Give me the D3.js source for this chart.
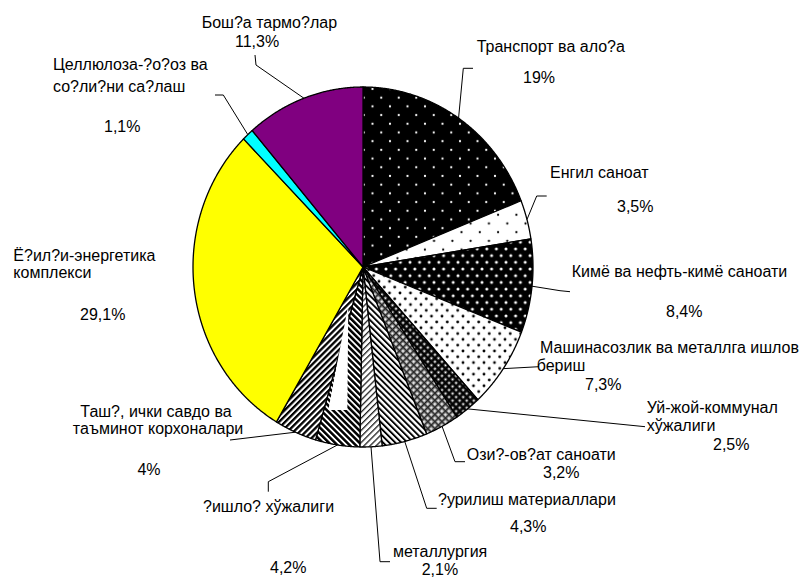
<!DOCTYPE html>
<html><head><meta charset="utf-8">
<script src="https://cdn.jsdelivr.net/npm/d3@7"></script>
<style>
body{margin:0;background:#fff}
svg{display:block}
text{font-family:"Liberation Sans",Arial,sans-serif;font-size:16px;fill:#000}
</style></head>
<body><svg id="c" width="803" height="577"></svg>
<script>
// ---- data ----
const categoryLines = [
  ["Транспорт ва ало?а"],
  ["Енгил саноат"],
  ["Кимё ва нефть-кимё саноати"],
  ["Машинасозлик ва металлга ишлов", "бериш"],
  ["Уй-жой-коммунал", "хўжалиги"],
  ["Ози?-ов?ат саноати"],
  ["?урилиш материаллари"],
  ["металлургия"],
  ["?ишло? хўжалиги"],
  ["Таш?, ички савдо ва", "таъминот корхоналари"],
  ["Ё?ил?и-энергетика", "комплекси"],
  ["Целлюлоза-?о?оз ва", "со?ли?ни са?лаш"],
  ["Бош?а тармо?лар"]
];
const shares = [19, 3.5, 8.4, 7.3, 2.5, 3.2, 4.3, 2.1, 4.2, 4, 29.1, 1.1, 11.3];
const fillKeys = ["transport","engil","kime","mashina","uy","ozik","qur","met","qish","tash","#FFFF00","#00FFFF","#800080"];

// ---- layout (label positions: x, baseline y, anchor) ----
const labelPos = [
  {lines:[[476.7,52.3]], pct:[523,83.3], lead:[[473,68.3],[463.3,68.3]]},
  {lines:[[550,178.3]], pct:[617,211.7], lead:[[546.7,196],[536.7,196]]},
  {lines:[[571.7,277.3]], pct:[666,316.7], lead:[[570,291.7],[560,290.7]]},
  {lines:[[540,353.3],[536.7,370.5]], pct:[585,390], lead:[[539,366.7]]},
  {lines:[[646.7,413.3],[646.7,431]], pct:[713,450], lead:[[645,426.7]]},
  {lines:[[466.7,460]], pct:[543,478.3], lead:[[465,461.7],[455,461.7]]},
  {lines:[[438,505]], pct:[510,531.7], lead:[[436.7,508.3],[426.7,508.3]]},
  {lines:[[393,556.7]], pct:[421.7,574.5], lead:[[390,561.7],[380,561.7]]},
  {lines:[[203,511.7]], pct:[270,573.3], lead:[[268.3,491.7],[268.3,481.7]]},
  {lines:[[231.7,416.7],[243.3,433.5]], pct:[160.5,474.5], anchor:"end", lead:[[230,440]]},
  {lines:[[13.3,260.7],[13.3,278.3]], pct:[80,320], lead:null},
  {lines:[[53,70],[53,92]], pct:[104,132], lead:[[215,95],[223.3,95]]},
  {lines:[[201.7,28.3]], pct:[235,46.7], lead:[[255,55],[256,65]]}
];
const cx = 363, cy = 267, rx = 170, ry = 180;

const svg = d3.select("#c");
svg.append("rect").attr("width",803).attr("height",577).attr("fill","#fff");
const defs = svg.append("defs");

function dotPattern(id, w, h, bg, fg, r, ox, oy){
  const p = defs.append("pattern").attr("id",id).attr("patternUnits","userSpaceOnUse")
    .attr("width",w).attr("height",h).attr("x",ox||0).attr("y",oy||0);
  p.append("rect").attr("width",w).attr("height",h).attr("fill",bg);
  [[0,0],[w,0],[0,h],[w,h],[w/2,h/2]].forEach(([x,y])=>
    p.append("circle").attr("cx",x).attr("cy",y).attr("r",r).attr("fill",fg));
}
function stripePattern(id, period, lw, angle, bg, fg){
  const p = defs.append("pattern").attr("id",id).attr("patternUnits","userSpaceOnUse")
    .attr("width",period).attr("height",period).attr("patternTransform",`rotate(${angle})`);
  p.append("rect").attr("width",period).attr("height",period).attr("fill",bg);
  p.append("rect").attr("width",lw).attr("height",period).attr("fill",fg);
}
function hatchPattern(id, period, lw, bg, fg, dot){
  const p = defs.append("pattern").attr("id",id).attr("patternUnits","userSpaceOnUse")
    .attr("width",period).attr("height",period).attr("patternTransform","rotate(45)");
  p.append("rect").attr("width",period).attr("height",period).attr("fill",bg);
  p.append("rect").attr("width",lw).attr("height",period).attr("fill",fg);
  p.append("rect").attr("width",period).attr("height",lw).attr("fill",fg);
  if(dot) p.append("circle").attr("cx",period/2+lw/2).attr("cy",period/2+lw/2).attr("r",dot).attr("fill","#fff");
}
dotPattern("transport",17.5,17.4,"#000","#fff",1.1,5,2);
dotPattern("engil",18.3,17.4,"#fff","#000",1.1,4,6);
dotPattern("kime",9.6,13.4,"#000","#fff",1.5,2,1);
dotPattern("mashina",10.5,11.6,"#fff","#000",1.4,1,3);
hatchPattern("uy",5,1.6,"#333","#000",1.0);
hatchPattern("ozik",5,1.3,"#999","#222",1.0);
stripePattern("qur",4.3,1.9,-45,"#fff","#000");
stripePattern("met",4.3,1.3,45,"#fff","#222");
stripePattern("qish",4.3,2.5,-45,"#fff","#000");
stripePattern("tash",4.3,2.3,45,"#fff","#000");

const pie = d3.pie().sort(null).value(d=>d);
const arcs = pie(shares);
const pt = (a, k=1) => [cx + rx*k*Math.sin(a), cy - ry*k*Math.cos(a)];
const line = d3.line();

function slicePath(d){
  const n = Math.max(2, Math.ceil((d.endAngle-d.startAngle)/0.005));
  const pts = [[cx,cy]];
  for(let i=0;i<=n;i++) pts.push(pt(d.startAngle + (d.endAngle-d.startAngle)*i/n));
  return line(pts) + "Z";
}

svg.append("g").selectAll("path").data(arcs).join("path")
  .attr("d", slicePath)
  .attr("fill", (d,i)=> fillKeys[i].startsWith("#") ? fillKeys[i] : `url(#${fillKeys[i]})`)
  .attr("stroke","#000").attr("stroke-width",1.3).attr("stroke-linejoin","round");

// rendering artifact: unfilled notch inside the "?ишло?" slice (pie-relative)
const notch = [[-0.0865,0.211],[-0.092,0.794],[-0.204,0.794]];
svg.append("path").attr("d", line(notch.map(([u,v])=>[cx+u*rx, cy+v*ry]))+"Z").attr("fill","#fff");

// leader lines
const lg = svg.append("g").attr("fill","none").attr("stroke","#000").attr("stroke-width",1);
arcs.forEach((d,i)=>{
  const L = labelPos[i].lead; if(!L) return;
  const mid = (d.startAngle+d.endAngle)/2;
  lg.append("path").attr("d", line([...L, pt(mid)]));
});

// labels
const fmt = v => String(v).replace(".", ",") + "%";
const tg = svg.append("g");
arcs.forEach((d,i)=>{
  const P = labelPos[i];
  const anc = P.anchor || "start";
  categoryLines[i].forEach((t,j)=>{
    tg.append("text").attr("x",P.lines[j][0]).attr("y",P.lines[j][1]).attr("text-anchor",anc).text(t);
  });
  tg.append("text").attr("x",P.pct[0]).attr("y",P.pct[1]).attr("text-anchor",anc).text(fmt(shares[i]));
});
</script>
</body></html>
